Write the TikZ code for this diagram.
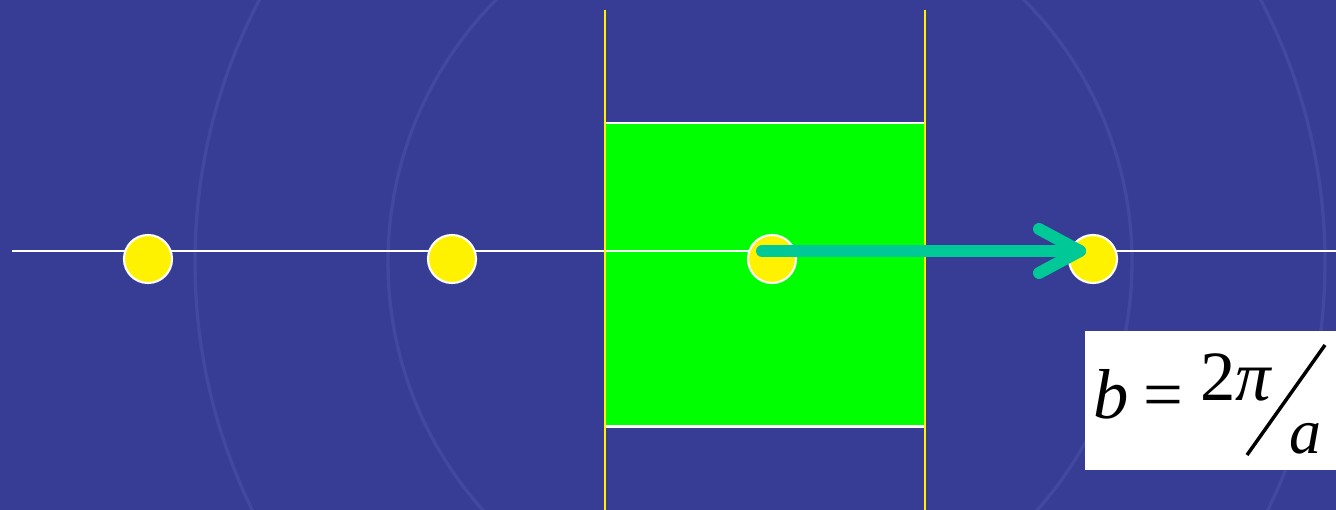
\documentclass[tikz,border=0pt]{standalone}
\usepackage{fontspec}
\setmainfont{Liberation Serif}
\begin{document}
\begin{tikzpicture}[x=0.75pt,y=-0.75pt,
  dot/.style={circle,draw=white,line width=1.6pt,fill=yellow,minimum size=36pt,inner sep=0pt},
  axis/.style={draw=white,line width=1.5pt},
  wall/.style={draw=yellow,line width=1.6pt},
  vec/.style={draw=arrowc,line width=9pt,line cap=round,line join=round},
  txt/.style={inner sep=0pt,anchor=base west,text=black}]
\definecolor{bg}{RGB}{55,60,148}
\definecolor{sealc}{RGB}{66,72,160}
\definecolor{arrowc}{RGB}{0,200,150}
\definecolor{gbox}{RGB}{0,255,0}
\useasboundingbox (0,0) rectangle (1336,510);
\fill[bg] (0,0) rectangle (1336,510);
% faint seal watermark
\draw[draw=sealc,line width=2.5pt] (760,262) circle (565);
\draw[draw=sealc,line width=2.5pt] (760,262) circle (372);
% green cell
\node[fill=gbox,inner sep=0pt,minimum width=240pt,minimum height=227.25pt,anchor=north west] (cell) at (605,123) {};
\draw[draw=white,line width=2.2pt] (cell.north west) -- (cell.north east);
\draw[draw=white,line width=2.2pt] (cell.south west) -- (cell.south east);
% axis
\coordinate (L) at (12,251);
\coordinate (R) at (1336,251);
\draw[axis] (L) -- (R);
% walls
\coordinate (w1t) at (605,10); \coordinate (w1b) at (605,510);
\coordinate (w2t) at (925,10); \coordinate (w2b) at (925,510);
\draw[wall] (w1t) -- (w1b);
\draw[wall] (w2t) -- (w2b);
% dots
\node[dot] (d1) at (148,259) {};
\node[dot] (d2) at (452,259) {};
\node[dot] (d3) at (772,259) {};
\node[dot] (d4) at (1093,259) {};
% arrow
\coordinate (as) at (762,251);
\coordinate (ae) at (1080,251);
\coordinate (h1) at (1039,229);
\coordinate (h2) at (1039,273);
\draw[vec] (as) -- (ae);
\draw[vec] (h1) -- (ae) -- (h2);
% formula box
\node[fill=white,inner sep=0pt,minimum width=188.25pt,minimum height=104.25pt,anchor=north west] (box) at (1085,331) {};
\node[txt,font=\fontsize{53}{53}\selectfont\itshape] (fb) at (1093,418) {b};
\node[txt,font=\fontsize{53}{53}\selectfont] (feq) at (1143,418) {=};
\node[txt,font=\fontsize{53}{53}\selectfont] (f2) at (1200,400) {2\textit{π}};
\coordinate (s1) at (1247,455);
\coordinate (s2) at (1325,345);
\draw[black,line width=2.6pt] (s1) -- (s2);
\node[txt,font=\fontsize{48}{48}\selectfont\itshape] (fa) at (1289,453) {a};
\end{tikzpicture}
\end{document}
